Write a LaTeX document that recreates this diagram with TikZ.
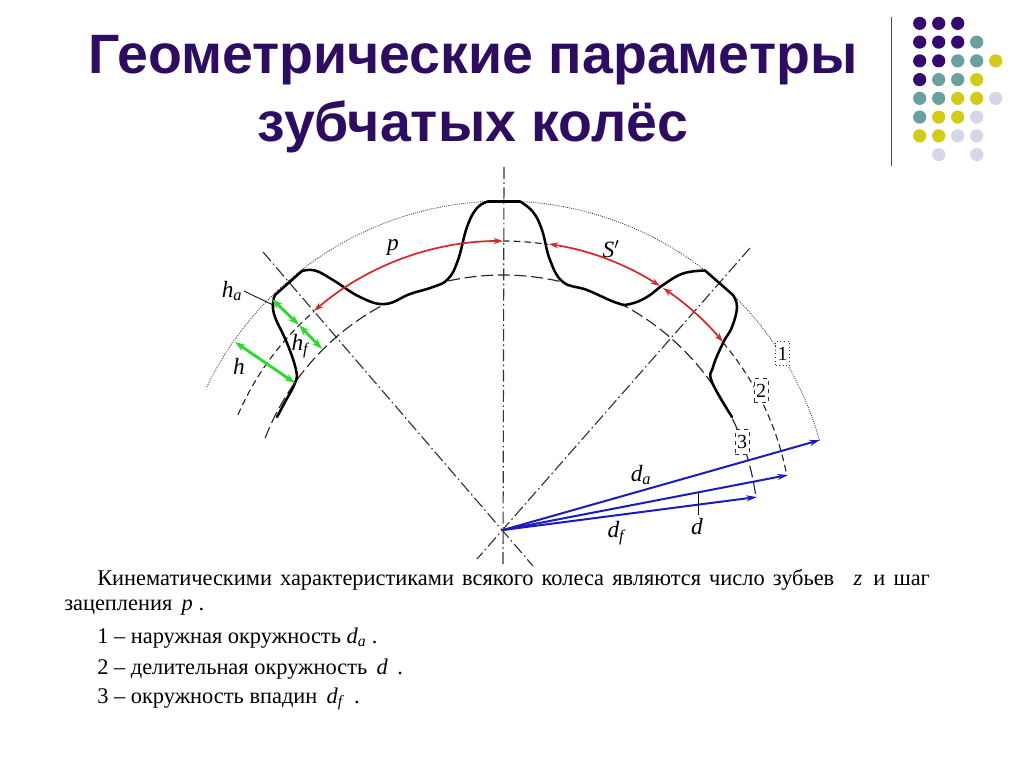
\documentclass[tikz,border=0pt]{standalone}
\usepackage{fontspec}
\usetikzlibrary{arrows.meta}
\setmainfont{Liberation Serif}
\newfontfamily\titlefont{Liberation Sans}
\definecolor{titlepurple}{RGB}{46,12,96}
\definecolor{dotpurple}{RGB}{52,10,110}
\definecolor{dotteal}{RGB}{107,160,160}
\definecolor{dotyellow}{RGB}{208,204,24}
\definecolor{dotlilac}{RGB}{214,214,232}
\definecolor{arcred}{RGB}{215,40,45}
\definecolor{armblue}{RGB}{28,28,190}
\definecolor{gapgreen}{RGB}{50,215,50}
\newcommand{\ringarc}[4]{\draw[#1,shift={(O)}] plot[domain=-#3:-#4,samples=60] (\x:#2);}
\newcommand{\dotat}[3]{\fill[#1] (900.7+19*#2,4.6+18.75*#3) circle (6.6);}
\begin{document}
\begin{tikzpicture}[x=0.75pt,y=-0.75pt]
    \tikzstyle{toothline}=[line width=1.9pt,line join=round,line cap=round]
    \tikzstyle{ringone}=[line width=0.6pt,dash pattern=on 0.7pt off 0.9pt,black!80]
    \tikzstyle{ringtwo}=[line width=0.85pt,dash pattern=on 5pt off 3pt,black!85]
    \tikzstyle{ringthree}=[line width=0.85pt,dash pattern=on 9pt off 3.5pt,black!85]
    \tikzstyle{axisline}=[line width=0.85pt,dash pattern=on 9pt off 2.5pt on 1.2pt off 2.5pt,black!80]
    \tikzstyle{redarc}=[{Stealth[length=7pt,width=4.5pt]}-{Stealth[length=7pt,width=4.5pt]},line width=1.3pt,arcred,looseness=0.88]
    \tikzstyle{bluearm}=[-{Stealth[length=8pt,width=4.5pt]},line width=1.5pt,armblue]
    \tikzstyle{greengap}=[{Stealth[length=8pt,width=5.5pt]}-{Stealth[length=8pt,width=5.5pt]},line width=2.2pt,gapgreen]
    \tikzstyle{leader}=[line width=0.6pt,black]
    \tikzstyle{gearlabel}=[font=\fontsize{17.5}{17.5}\selectfont\itshape,inner sep=0pt]
    \tikzstyle{ringbox}=[fill=white,inner sep=0pt,minimum width=10.5pt,minimum height=18.5pt,line width=0.7pt,font=\fontsize{15}{15}\selectfont]
    \tikzstyle{titleline}=[font=\titlefont\bfseries\fontsize{41.6}{41.6}\selectfont,text=titlepurple,inner sep=0pt,anchor=base]
    \tikzstyle{bodyline}=[font=\fontsize{16.8}{16.8}\selectfont,anchor=base west,inner sep=0pt]
    \useasboundingbox (0,0) rectangle (1024,768);
    \fill[white] (0,0) rectangle (1024,768);

    \node[titleline] (title1) at (473,73.5) {Геометрические параметры};
    \node[titleline] (title2) at (473,141) {зубчатых колёс};

    \draw[line width=0.9pt,black!70] (891.7,17) -- (891.7,166);
    \foreach \c/\r in {1/1,2/1,3/1,1/2,2/2,3/2,1/3,2/3,1/4} {\dotat{dotpurple}{\c}{\r}}
    \foreach \c/\r in {4/2,3/3,4/3,2/4,3/4,1/5,2/5,1/6} {\dotat{dotteal}{\c}{\r}}
    \foreach \c/\r in {5/3,4/4,3/5,4/5,2/6,3/6,1/7,2/7} {\dotat{dotyellow}{\c}{\r}}
    \foreach \c/\r in {5/5,4/6,3/7,4/7,2/8,4/8} {\dotat{dotlilac}{\c}{\r}}

    \coordinate (O) at (503,530);
    \coordinate (axisTop) at (504,167);
    \coordinate (axisBot) at (503,566);
    \coordinate (axisLtop) at (263,252);
    \coordinate (axisLbot) at (533,566);
    \coordinate (axisRtop) at (750,248);
    \coordinate (axisRbot) at (477,559);
    \draw[axisline] (axisTop) -- (axisBot);
    \draw[axisline] (axisLtop) -- (axisLbot);
    \draw[axisline] (axisRtop) -- (axisRbot);

    \ringarc{ringone}{329}{154.2}{15.85}
    \ringarc{ringtwo}{289}{156.5}{130.8}
    \ringarc{ringtwo}{289}{90}{81}
    \ringarc{ringtwo}{289}{40.5}{10.9}
    \ringarc{ringthree}{255}{158.9}{118.4}
    \ringarc{ringthree}{255}{102.4}{76.5}
    \ringarc{ringthree}{255}{63.3}{7.4}

    \node[ringbox,draw=black!80,dotted] (ring1) at (782.5,353.5) {1};
    \node[ringbox,draw=black!80,dashed] (ring2) at (761,390.5) {2};
    \node[ringbox,draw=black!80,dashed] (ring3) at (742,442) {3};

    \draw[toothline] plot[smooth,tension=0.7] coordinates {(277,417) (285,402) (295,383) (296,370) (287,343) (275,317) (273,303) (275,295)};
    \draw[toothline] (275,295) -- (302,271);
    \draw[toothline] plot[smooth,tension=0.7] coordinates {(302,271) (315,270.5) (333,280) (360,297) (385,304) (410,294) (433,287) (448,279) (458,260) (467,227) (477,208) (488,201.5)};
    \draw[toothline] (488,201.5) -- (520,201.5);
    \draw[toothline] plot[smooth,tension=0.7] coordinates {(520,201.5) (533,212) (542,230) (550,260) (563,282) (587,290) (617,303) (630,304) (647,297) (663,285) (683,273.5) (705,270.5)};
    \draw[toothline] (705,270.5) -- (733,295);
    \draw[toothline] plot[smooth,tension=0.7] coordinates {(733,295) (737,307) (732,327) (723,343) (713,367) (712,382) (732,417)};

    \coordinate (pA) at (314,311);
    \coordinate (pB) at (503,241);
    \coordinate (sA) at (549,244);
    \coordinate (sB) at (660,286);
    \coordinate (sC) at (663,288);
    \coordinate (sD) at (723,342);
    \draw[redarc] (pA) to[bend left=20.4] (pB);
    \draw[redarc] (sA) to[bend left=11.9] (sB);
    \draw[redarc] (sC) to[bend left=8] (sD);

    \coordinate (hA) at (235,342);
    \coordinate (hB) at (295,383);
    \coordinate (haA) at (272,299);
    \coordinate (haB) at (299,325);
    \coordinate (hfB) at (322,349);
    \draw[greengap] (hA) -- (hB);
    \draw[greengap] (haA) -- (haB);
    \draw[greengap] (haB) -- (hfB);

    \coordinate (daEnd) at (820,440);
    \coordinate (dEnd) at (788,475);
    \coordinate (dfEnd) at (757,497);
    \draw[bluearm] (O) -- (daEnd);
    \draw[bluearm] (O) -- (dEnd);
    \draw[bluearm] (O) -- (dfEnd);

    \coordinate (haLead) at (244,291);
    \coordinate (haFoot) at (273,305);
    \coordinate (dLead) at (698,493);
    \coordinate (dFoot) at (698,515);
    \draw[leader] (haLead) -- (haFoot);
    \draw[leader] (dLead) -- (dFoot);

    \node[gearlabel] (labelP) at (393,247) {p};
    \node[gearlabel] (labelS) at (611,249) {S$'$};
    \node[gearlabel] (labelHa) at (232,291) {h\textsubscript{a}};
    \node[gearlabel] (labelHf) at (300,346) {h\textsubscript{f}};
    \node[gearlabel] (labelH) at (239,366) {h};
    \node[gearlabel] (labelDa) at (641,475) {d\textsubscript{a}};
    \node[gearlabel] (labelDf) at (616,533) {d\textsubscript{f}};
    \node[gearlabel] (labelD) at (697,527) {d};

    \node[bodyline] (text1) at (97,585) {\makebox[624.5pt][s]{Кинематическими характеристиками всякого колеса являются число зубьев \enspace\textit{z}\enspace и шаг}};
    \node[bodyline] (text2) at (64,610) {зацепления \,\textit{p} .};
    \node[bodyline] (text3) at (97,643) {1 – наружная окружность \textit{d}\textsubscript{\textit{a}} .};
    \node[bodyline] (text4) at (97,674) {2 – делительная окружность \,\textit{d} \,.};
    \node[bodyline] (text5) at (97,703) {3 – окружность впадин \,\textit{d}\textsubscript{\textit{f}} \,.};
\end{tikzpicture}
\end{document}
